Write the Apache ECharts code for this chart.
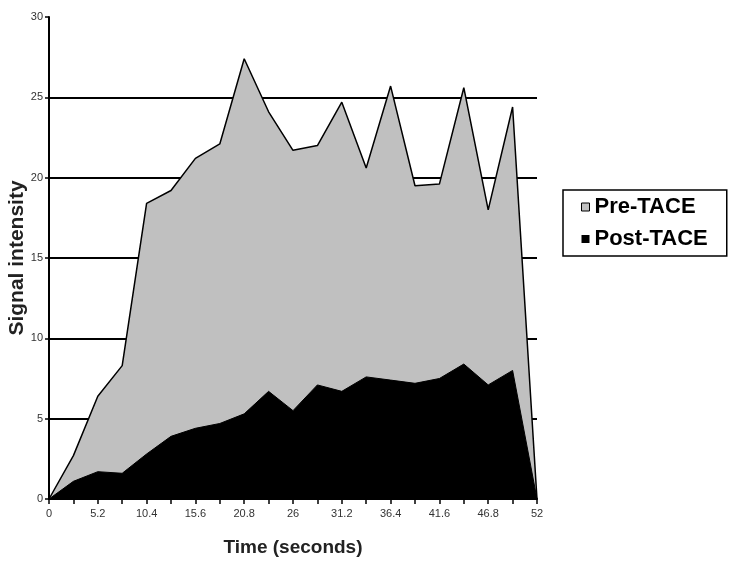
<!DOCTYPE html>
<html>
<head>
<meta charset="utf-8">
<script src="https://cdn.jsdelivr.net/npm/echarts@6/dist/echarts.min.js"></script>
<style>html,body{margin:0;padding:0;background:#fff}#c{width:742px;height:563px}</style>
</head>
<body>
<div id="c"></div>
<script>
var times = [0, 2.6, 5.2, 7.8, 10.4, 13, 15.6, 18.2, 20.8, 23.4, 26, 28.6, 31.2, 33.8, 36.4, 39, 41.6, 44.2, 46.8, 49.4, 52];
var preTACE = [0, 2.7, 6.4, 8.3, 18.4, 19.2, 21.2, 22.1, 27.4, 24.1, 21.7, 22.0, 24.7, 20.6, 25.7, 19.5, 19.6, 25.6, 18.0, 24.4, 0];
var postTACE = [0, 1.1, 1.7, 1.6, 2.8, 3.9, 4.4, 4.7, 5.3, 6.7, 5.5, 7.1, 6.7, 7.6, 7.4, 7.2, 7.5, 8.4, 7.1, 8.0, 0];
var seriesNames = ['Pre-TACE', 'Post-TACE'];
var yTicks = [0, 5, 10, 15, 20, 25, 30];

function pairs(vals) { return times.map(function (t, i) { return [t, vals[i]]; }); }

var chart = echarts.init(document.getElementById('c'), null, {renderer: 'canvas'});
var labelFont = {fontFamily: 'Liberation Sans Narrow, Arial, sans-serif', fontSize: 11, color: '#333'};
chart.setOption({
  animation: false,
  grid: {left: 49, right: 205, top: 17, bottom: 64, containLabel: false, outerBoundsMode: 'none'},
  legend: {
    orient: 'vertical',
    left: 563, top: 190,
    padding: [6, 19, 6, 18],
    borderColor: '#000', borderWidth: 1.5,
    itemGap: 10,
    itemWidth: 8, itemHeight: 8,
    icon: 'rect',
    textStyle: {fontFamily: 'Liberation Sans, Arial, sans-serif', fontWeight: 'bold', fontSize: 22, color: '#000', padding: [0, 0, 0, 0]},
    data: [
      {name: seriesNames[0], itemStyle: {color: '#c0c0c0', borderColor: '#000', borderWidth: 1}},
      {name: seriesNames[1], itemStyle: {color: '#000'}}
    ]
  },
  xAxis: {
    type: 'value', min: 0, max: 52, interval: 2.6,
    name: 'Time (seconds)', nameLocation: 'middle', nameGap: 39, nameMoveOverlap: false,
    nameTextStyle: {fontFamily: 'Liberation Sans, Arial, sans-serif', fontWeight: 'bold', fontSize: 19, color: '#222'},
    axisLine: {lineStyle: {color: '#000', width: 2}},
    axisTick: {show: true, length: 5, lineStyle: {color: '#000', width: 1.5}},
    axisLabel: Object.assign({margin: 9, formatter: function (v, i) {
      var r = Math.round(v * 10) / 10;
      return (Math.round(r / 2.6) % 2 === 0) ? String(r) : '';
    }}, labelFont),
    splitLine: {show: false}
  },
  yAxis: {
    type: 'value', min: 0, max: 30, interval: 5,
    name: 'Signal intensity', nameLocation: 'middle', nameGap: 21, nameRotate: 90, nameMoveOverlap: false,
    nameTextStyle: {fontFamily: 'Liberation Sans, Arial, sans-serif', fontWeight: 'bold', fontSize: 21, color: '#222'},
    axisLine: {show: true, lineStyle: {color: '#000', width: 2}},
    axisTick: {show: true, length: 4, lineStyle: {color: '#000', width: 1.5}},
    axisLabel: Object.assign({margin: 6, formatter: function (v) { return yTicks.indexOf(v) >= 0 ? String(v) : ''; }}, labelFont),
    splitLine: {show: true, lineStyle: {color: ['#000', '#000', '#000', '#000', '#000', '#000', 'rgba(0,0,0,0)'], width: 2}}
  },
  series: [
    {
      name: seriesNames[0], type: 'line', data: pairs(preTACE),
      symbol: 'none', smooth: false,
      lineStyle: {color: '#000', width: 1.5},
      itemStyle: {color: '#c0c0c0'},
      areaStyle: {color: '#c0c0c0', opacity: 1}
    },
    {
      name: seriesNames[1], type: 'line', data: pairs(postTACE),
      symbol: 'none', smooth: false,
      lineStyle: {color: '#000', width: 1},
      itemStyle: {color: '#000'},
      areaStyle: {color: '#000', opacity: 1}
    }
  ]
});
</script>
</body>
</html>
